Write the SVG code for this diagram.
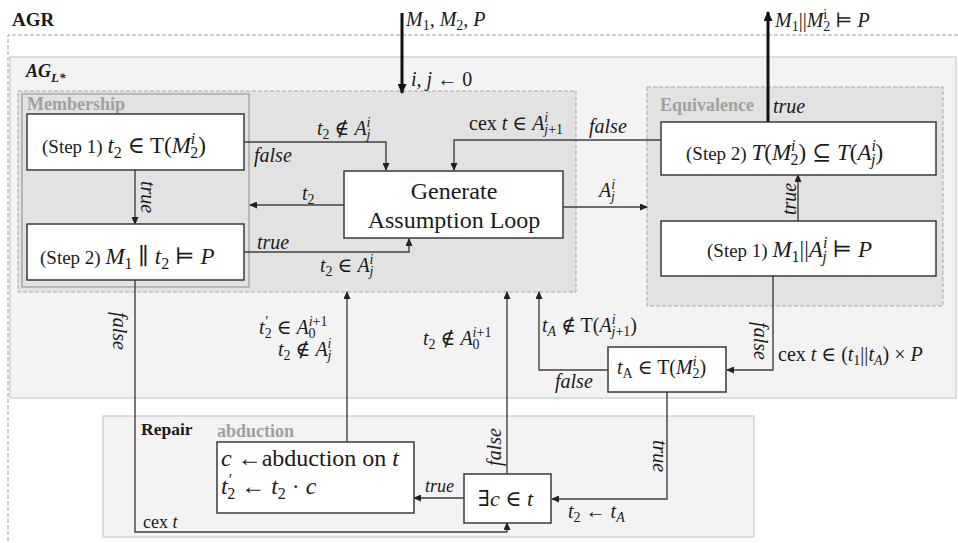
<svg xmlns="http://www.w3.org/2000/svg" width="958" height="543" viewBox="0 0 958 543">
<style>
text{font-family:"Liberation Serif","Times New Roman","DejaVu Serif",serif;fill:#1a1a1a}
.m{font-style:italic;font-size:20px}
.bx{font-style:italic;font-size:23px}
.sb{font-size:14px}
.sb2{font-size:16px}
.up{font-style:normal}
.st{font-style:normal;font-size:19px}
.gl{font-weight:bold;font-size:18px;fill:#a0a0a0}
.node{fill:#fff;stroke:#3a3a3a;stroke-width:1.5}
.cn{fill:none;stroke:#404040;stroke-width:1.4;marker-end:url(#ah)}
.th{fill:none;stroke:#111;stroke-width:3;marker-end:url(#ahb)}
.dash{stroke-dasharray:4 2}
</style>
<defs>
<marker id="ah" markerUnits="userSpaceOnUse" markerWidth="8" markerHeight="7" refX="7" refY="3.5" orient="auto"><path d="M0,0 L8,3.5 L0,7 z" fill="#222"/></marker>
<marker id="ahb" markerUnits="userSpaceOnUse" markerWidth="10" markerHeight="9" refX="9" refY="4.5" orient="auto"><path d="M0,0 L10,4.5 L0,9 z" fill="#111"/></marker>
</defs>

<g id="containers">
<path d="M958,35 H8 V543" fill="none" stroke="#9a9a9a" stroke-width="1" class="dash"/>
<text x="12" y="26" style="font-weight:bold;font-size:19px">AGR</text>
<rect id="agl" x="10" y="57" width="946" height="341" fill="#f3f3f3" stroke="#d4d4d4" stroke-width="1.5"/>
<text x="26" y="77" style="font-weight:bold;font-style:italic;font-size:18px">AG<tspan dy="5" style="font-size:13px">L*</tspan></text>
<rect x="18" y="91" width="558" height="201" fill="#e2e2e2" stroke="#a8a8a8" stroke-width="1" class="dash"/>
<rect id="membership" x="22" y="94" width="227" height="193" fill="#e2e2e2" stroke="#a8a8a8" stroke-width="1.5"/>
<text class="gl" x="27" y="110">Membership</text>
<rect id="equivalence" x="647" y="87" width="296" height="219" fill="#e2e2e2" stroke="#a8a8a8" stroke-width="1" class="dash"/>
<text class="gl" x="660" y="111">Equivalence</text>
<rect id="repair" x="103" y="416" width="651" height="121" fill="#f3f3f3" stroke="#d4d4d4" stroke-width="1.5"/>
<text x="141" y="435" style="font-weight:bold;font-size:17.5px">Repair</text>
<text class="gl" x="217" y="437">abduction</text>
</g>

<g id="connectors">
<polyline class="cn" points="244,142 386,142 386,170"/>
<polyline class="cn" points="344,205 250,205"/>
<polyline class="cn" points="244,252 409,252 409,239"/>
<polyline class="cn" points="661,140 454,140 454,170"/>
<polyline class="cn" points="563,207 647,207"/>
<polyline class="cn" points="135,170 135,224"/>
<polyline class="cn" points="798,221 798,175"/>
<polyline class="th" points="768,122 768,12"/>
<polyline class="th" points="402,13 402,93"/>
<polyline class="cn" points="773,276 773,370 727,370"/>
<polyline class="cn" points="608,370 539,370 539,292"/>
<polyline class="cn" points="667,392 667,499 552,499"/>
<polyline class="cn" points="507,474 507,292"/>
<polyline class="cn" points="464,498 414,498"/>
<polyline class="cn" points="347,442 347,292"/>
<polyline class="cn" points="135,280 135,532 507,532 507,523"/>
</g>

<g id="labels">
<text class="m" x="406" y="26">M<tspan class="sb up" dy="4">1</tspan><tspan dy="-4">, M</tspan><tspan class="sb up" dy="4">2</tspan><tspan dy="-4">, P</tspan></text>
<text class="m" x="411" y="86">i, j <tspan class="up">← 0</tspan></text>
<text class="m" x="775" y="27">M<tspan class="sb up" dy="4">1</tspan><tspan class="up" dy="-4">||</tspan>M<tspan class="sb up" dy="-8">i</tspan><tspan class="sb up" dx="-4" dy="12">2</tspan><tspan class="up" dy="-4"> ⊨ </tspan>P</text>
<text class="m" x="254" y="162">false</text>
<text class="m" x="317" y="135">t<tspan class="sb up" dy="4">2</tspan><tspan class="up" dy="-4"> ∉ </tspan>A<tspan class="sb" dy="-8">i</tspan><tspan class="sb" dx="-4" dy="12">j</tspan></text>
<text class="m" x="302" y="200">t<tspan class="sb up" dy="4">2</tspan></text>
<text class="m" x="257" y="249">true</text>
<text class="m" x="320" y="272">t<tspan class="sb up" dy="4">2</tspan><tspan class="up" dy="-4"> ∈ </tspan>A<tspan class="sb" dy="-8">i</tspan><tspan class="sb" dx="-4" dy="12">j</tspan></text>
<text class="m" x="469" y="130"><tspan class="up">cex </tspan>t<tspan class="up"> ∈ </tspan>A<tspan class="sb" dy="-8">i</tspan><tspan class="sb" dx="-4" dy="12">j<tspan class="up">+1</tspan></tspan></text>
<text class="m" x="589" y="133">false</text>
<text class="m" x="599" y="197">A<tspan class="sb" dy="-8">i</tspan><tspan class="sb" dx="-4" dy="12">j</tspan></text>
<text class="m" x="773" y="113">true</text>
<text class="m" transform="translate(141,197) rotate(90)" text-anchor="middle">true</text>
<text class="m" transform="translate(796,199) rotate(-90)" text-anchor="middle">true</text>
<text class="m" transform="translate(113,331) rotate(90)" text-anchor="middle">false</text>
<text class="m" transform="translate(754,341) rotate(90)" text-anchor="middle">false</text>
<text class="m" transform="translate(653,456) rotate(90)" text-anchor="middle">true</text>
<text class="m" transform="translate(501,447) rotate(-90)" text-anchor="middle">false</text>
<text class="m" x="259" y="334">t<tspan class="sb" dy="-8">′</tspan><tspan class="sb up" dx="-3" dy="12">2</tspan><tspan class="up" dy="-4"> ∈ </tspan>A<tspan class="sb" dy="-8">i<tspan class="up">+1</tspan></tspan><tspan class="sb up" dx="-19" dy="12">0</tspan></text>
<text class="m" x="278" y="356">t<tspan class="sb up" dy="4">2</tspan><tspan class="up" dy="-4"> ∉ </tspan>A<tspan class="sb" dy="-8">i</tspan><tspan class="sb" dx="-4" dy="12">j</tspan></text>
<text class="m" x="423" y="345">t<tspan class="sb up" dy="4">2</tspan><tspan class="up" dy="-4"> ∉ </tspan>A<tspan class="sb" dy="-8">i<tspan class="up">+1</tspan></tspan><tspan class="sb up" dx="-19" dy="12">0</tspan></text>
<text class="m" x="542" y="332">t<tspan class="sb" dy="4">A</tspan><tspan class="up" dy="-4"> ∉ T(</tspan>A<tspan class="sb" dy="-8">i</tspan><tspan class="sb" dx="-4" dy="12">j<tspan class="up">+1</tspan></tspan><tspan class="up" dy="-4">)</tspan></text>
<text class="m" x="555" y="388">false</text>
<text class="m" x="778" y="361"><tspan class="up">cex </tspan>t<tspan class="up"> ∈ (</tspan>t<tspan class="sb up" dy="4">1</tspan><tspan class="up" dy="-4">||</tspan>t<tspan class="sb" dy="4">A</tspan><tspan class="up" dy="-4">) × </tspan>P</text>
<text class="m" x="568" y="518">t<tspan class="sb up" dy="4">2</tspan><tspan class="up" dy="-4"> ← </tspan>t<tspan class="sb" dy="4">A</tspan></text>
<text class="m" x="425" y="492" style="font-size:18px">true</text>
<text x="143" y="528" style="font-size:18px">cex <tspan font-style="italic">t</tspan></text>
</g>

<g id="step1-membership">
<rect class="node" x="27" y="114" width="217" height="56"/>
<text class="bx" x="42" y="153"><tspan class="st">(Step 1) </tspan>t<tspan class="sb2 up" dy="5">2</tspan><tspan class="up" dy="-5"> ∈ T(</tspan>M<tspan class="sb2" dy="-9">i</tspan><tspan class="sb2 up" dx="-5" dy="14">2</tspan><tspan class="up" dy="-5">)</tspan></text>
</g>
<g id="step2-membership">
<rect class="node" x="27" y="224" width="217" height="56"/>
<text class="bx" x="40" y="264"><tspan class="st">(Step 2) </tspan>M<tspan class="sb2 up" dy="5">1</tspan><tspan class="up" dy="-5"> ∥ </tspan>t<tspan class="sb2 up" dy="5">2</tspan><tspan class="up" dy="-5"> ⊨ </tspan>P</text>
</g>
<g id="generate-loop">
<rect class="node" x="344" y="171" width="219" height="67"/>
<text x="454" y="199" text-anchor="middle" style="font-size:24px">Generate</text>
<text x="454" y="228" text-anchor="middle" style="font-size:24px">Assumption Loop</text>
</g>
<g id="step2-equivalence">
<rect class="node" x="661" y="122" width="275" height="53"/>
<text class="bx" x="686" y="160"><tspan class="st">(Step 2) </tspan>T<tspan class="up">(</tspan>M<tspan class="sb2" dy="-9">i</tspan><tspan class="sb2 up" dx="-5" dy="14">2</tspan><tspan class="up" dy="-5">) ⊆ </tspan>T<tspan class="up">(</tspan>A<tspan class="sb2" dy="-9">i</tspan><tspan class="sb2" dx="-5" dy="14">j</tspan><tspan class="up" dy="-5">)</tspan></text>
</g>
<g id="step1-equivalence">
<rect class="node" x="661" y="221" width="275" height="55"/>
<text class="bx" x="707" y="257"><tspan class="st">(Step 1) </tspan>M<tspan class="sb2 up" dy="5">1</tspan><tspan class="up" dy="-5">||</tspan>A<tspan class="sb2" dy="-9">i</tspan><tspan class="sb2" dx="-5" dy="14">j</tspan><tspan class="up" dy="-5"> ⊨ </tspan>P</text>
</g>
<g id="tA-check">
<rect class="node" x="608" y="347" width="118" height="45"/>
<text class="m" x="617" y="374">t<tspan class="sb up" dy="4">A</tspan><tspan class="up" dy="-4"> ∈ T(</tspan>M<tspan class="sb" dy="-8">i</tspan><tspan class="sb up" dx="-4" dy="12">2</tspan><tspan class="up" dy="-4">)</tspan></text>
</g>
<g id="exists-c">
<rect class="node" x="464" y="474" width="87" height="49"/>
<text class="bx" x="478" y="506" style="font-size:22px"><tspan class="up">∃</tspan>c<tspan class="up"> ∈ </tspan>t</text>
</g>
<g id="abduction-node">
<rect class="node" x="217" y="442" width="197" height="71"/>
<text x="221" y="466" style="font-size:24px"><tspan font-style="italic">c</tspan> ←abduction on <tspan font-style="italic">t</tspan></text>
<text x="221" y="494" style="font-size:24px;font-style:italic">t<tspan style="font-size:16px" dy="-9">′</tspan><tspan style="font-size:16px;font-style:normal" dx="-4" dy="14">2</tspan><tspan font-style="normal" dy="-5"> ← </tspan>t<tspan style="font-size:16px;font-style:normal" dy="5">2</tspan><tspan font-style="normal" dy="-5"> · </tspan>c</text>
</g>
</svg>
